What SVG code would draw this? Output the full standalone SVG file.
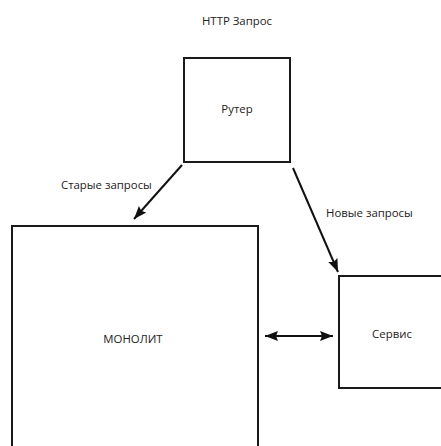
<svg xmlns="http://www.w3.org/2000/svg" width="441" height="446" viewBox="0 0 441 446">
<style>
.box{fill:#fff;stroke:#1a1a1a;stroke-width:2}
.lbl{font-family:"Open Sans","Liberation Sans",sans-serif;font-size:11.4px;fill:#222}
.c{text-anchor:middle}
.edge{stroke:#111;stroke-width:2;fill:none}
</style>
<defs>
<marker id="ah" viewBox="0 0 13 10" refX="13" refY="5" markerWidth="13" markerHeight="10" markerUnits="userSpaceOnUse" orient="auto-start-reverse">
<path d="M0,0 L13,5 L0,10 L2,5 z" fill="#111"/>
</marker>
</defs>
<rect width="441" height="446" fill="#fff"/>
<text class="lbl c" x="237" y="25">HTTP Запрос</text>
<g id="router">
<rect class="box" x="184" y="58" width="106" height="104"/>
<text class="lbl c" x="237" y="113">Рутер</text>
</g>
<g id="monolith">
<rect class="box" x="12" y="226" width="246" height="240"/>
<text class="lbl c" x="133" y="343">МОНОЛИТ</text>
</g>
<g id="service">
<rect class="box" x="339" y="276" width="120" height="112"/>
<text class="lbl c" x="392" y="338">Сервис</text>
</g>
<g id="connectors">
<line class="edge" x1="182" y1="165" x2="134" y2="219" marker-end="url(#ah)"/>
<line class="edge" x1="293" y1="168" x2="338" y2="272" marker-end="url(#ah)"/>
<line class="edge" x1="265" y1="336" x2="333" y2="336" marker-start="url(#ah)" marker-end="url(#ah)"/>
<text class="lbl" x="61" y="189">Старые запросы</text>
<text class="lbl" x="326" y="217">Новые запросы</text>
</g>
</svg>
